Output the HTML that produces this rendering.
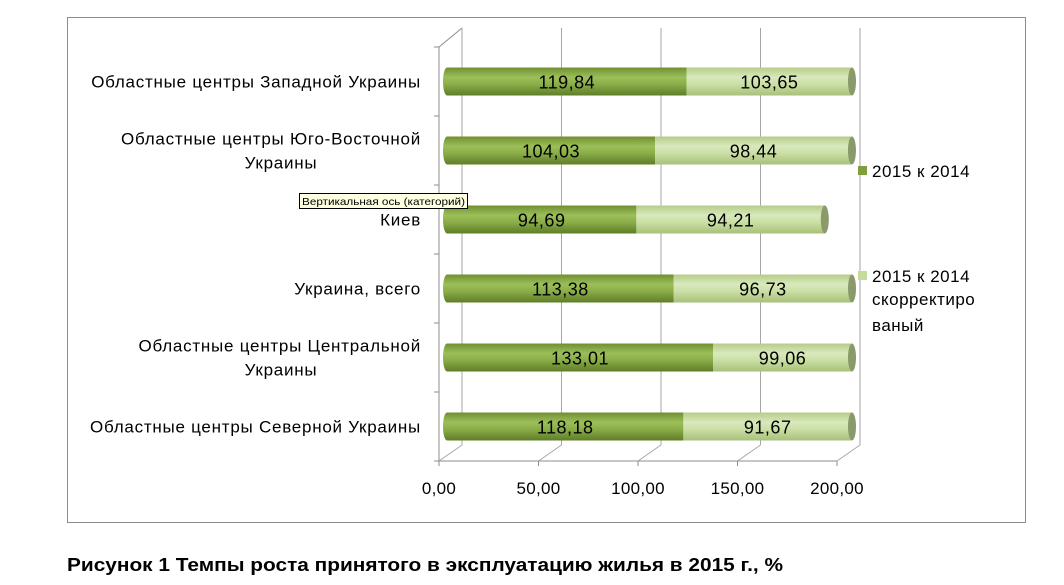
<!DOCTYPE html>
<html><head><meta charset="utf-8"><style>
body{margin:0;background:#fff;width:1064px;height:585px;overflow:hidden;font-family:"Liberation Sans",sans-serif}
svg{position:absolute;left:0;top:0}
</style></head><body>
<svg width="1064" height="585" id="svg">
<defs>
<linearGradient id="gDark" x1="0" y1="0" x2="0" y2="1">
<stop offset="0" stop-color="#6f8f30"/><stop offset="0.35" stop-color="#9cbf5a"/><stop offset="0.6" stop-color="#8aad48"/><stop offset="1" stop-color="#5f7d28"/></linearGradient>
<linearGradient id="gLight" x1="0" y1="0" x2="0" y2="1">
<stop offset="0" stop-color="#b5cc88"/><stop offset="0.35" stop-color="#d9e9bd"/><stop offset="0.6" stop-color="#cadfa4"/><stop offset="1" stop-color="#a8c07a"/></linearGradient>
</defs>
<rect x="67.5" y="17.5" width="958" height="505" fill="none" stroke="#8c8c8c"/>
<g id="grid"></g><g id="bars"></g><g id="labels"></g>
<g font-size="17" letter-spacing="0.5">
<rect x="858" y="166" width="9" height="9" fill="#7f9f3f"/>
<text x="872" y="177">2015 к 2014</text>
<rect x="858" y="271" width="9" height="9" fill="#c5dc98"/>
<text><tspan x="872" y="282">2015 к 2014</tspan><tspan x="872" y="305">скорректиро</tspan><tspan x="872" y="331">ваный</tspan></text>
</g>
<g>
<rect x="299.5" y="193.5" width="168" height="15" fill="#ffffe1" stroke="#000"/>
<text x="302" y="205" font-size="10.5" textLength="163" lengthAdjust="spacingAndGlyphs">Вертикальная ось (категорий)</text>
</g>
<text x="67" y="571" font-size="18" font-weight="bold" textLength="716" lengthAdjust="spacingAndGlyphs">Рисунок 1 Темпы роста принятого в эксплуатацию жилья в 2015 г., %</text>
</svg>
<script>
const categories=["Областные центры Западной Украины","Областные центры Юго-Восточной Украины","Киев","Украина, всего","Областные центры Центральной Украины","Областные центры Северной Украины"];
const catLines=[["Областные центры Западной Украины"],["Областные центры Юго-Восточной","Украины"],["Киев"],["Украина, всего"],["Областные центры Центральной","Украины"],["Областные центры Северной Украины"]];
const series1=[119.84,104.03,94.69,113.38,133.01,118.18];
const series2=[103.65,98.44,94.21,96.73,99.06,91.67];
const labels1=["119,84","104,03","94,69","113,38","133,01","118,18"];
const labels2=["103,65","98,44","94,21","96,73","99,06","91,67"];
const ticks=[0,50,100,150,200];
const tickLabels=["0,00","50,00","100,00","150,00","200,00"];
const NS="http://www.w3.org/2000/svg";
function mk(t,a,p){const e=document.createElementNS(NS,t);for(const k in a)e.setAttribute(k,a[k]);p.appendChild(e);return e;}
const fx=v=>439+v*(398/200);
const bx=v=>447+v*2.0;
const top0=47,bot=461,n=categories.length,step=(bot-top0)/n;
const cy=i=>top0+step*(i+0.5);
const grid=document.getElementById('grid'),bars=document.getElementById('bars'),labs=document.getElementById('labels');
mk('line',{x1:439,y1:top0,x2:439,y2:bot,stroke:'#8c8c8c'},grid);
mk('line',{x1:439,y1:top0,x2:462,y2:28,stroke:'#8c8c8c'},grid);
mk('line',{x1:439,y1:bot,x2:837,y2:bot,stroke:'#8c8c8c'},grid);
for(let i=0;i<=n;i++){const y=top0+step*i;mk('line',{x1:434,y1:y,x2:439,y2:y,stroke:'#8c8c8c'},grid);}
ticks.forEach((t,i)=>{
 const x=fx(t);
 const g=mk('line',{x1:x+23,y1:28,x2:x+23,y2:445,stroke:'#a6a6a6'},grid);
 
 
 mk('line',{x1:x,y1:bot,x2:x+23,y2:445,stroke:'#a6a6a6'},grid);
 mk('line',{x1:x,y1:bot,x2:x,y2:bot+5,stroke:'#8c8c8c'},grid);
 const tl=mk('text',{x:x,y:494,'font-size':17,'text-anchor':'middle','letter-spacing':0.3},labs);
 tl.textContent=tickLabels[i];
 
 
});
const h=28;
categories.forEach((c,i)=>{
 const y=cy(i);
 const x0=bx(0),x1=bx(series1[i]),x2=Math.min(bx(series1[i]+series2[i]),852);
 const b1=mk('rect',{x:x0,y:y-h/2,width:x1-x0,height:h,fill:'url(#gDark)'},bars);
 
 
 mk('ellipse',{cx:x0,cy:y,rx:4,ry:h/2,fill:'url(#gDark)'},bars);
 const b2=mk('rect',{x:x1,y:y-h/2,width:x2-x1,height:h,fill:'url(#gLight)'},bars);
 
 
 mk('ellipse',{cx:x2,cy:y,rx:4,ry:h/2,fill:'#8a9a6a'},bars);
 const t1=mk('text',{x:(x0+x1)/2,y:y+7,'font-size':18,'text-anchor':'middle','letter-spacing':0.5},labs);
 t1.textContent=labels1[i];
 
 
 const t2=mk('text',{x:(x1+x2)/2,y:y+7,'font-size':18,'text-anchor':'middle','letter-spacing':0.5},labs);
 t2.textContent=labels2[i];
 
 
 const L=catLines[i];
 L.forEach((s,k)=>{
  const ty=y+6+(k-(L.length-1)/2)*24;
  const second=L.length>1&&k===1;
  const ct=mk('text',{x:second?281:421,y:ty,'font-size':17,'letter-spacing':0.75,'text-anchor':second?'middle':'end'},labs);
  ct.textContent=s;
  
  
 });
});
</script>
</body></html>
